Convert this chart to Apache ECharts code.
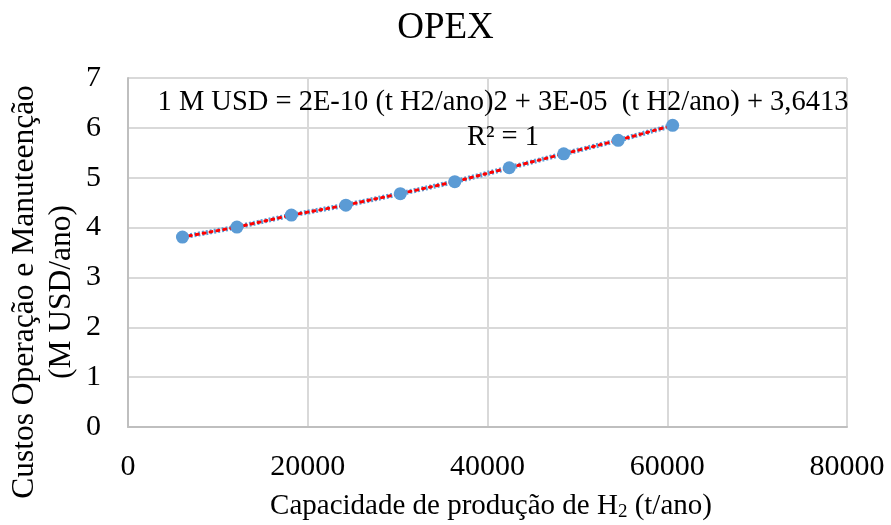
<!DOCTYPE html>
<html>
<head>
<meta charset="utf-8">
<script src="https://cdn.jsdelivr.net/npm/echarts@6/dist/echarts.min.js"></script>
<style>
  html, body { margin: 0; padding: 0; background: #fff; }
  #chart { width: 891px; height: 525px; }
</style>
</head>
<body>
<div id="chart"></div>
<script>
// Production capacity (t H2/ano) and yearly O&M cost (M USD/ano)
const capacidade = [6060, 12120, 18180, 24240, 30300, 36360, 42420, 48480, 54540, 60600];
const opex = [3.81, 4.01, 4.25, 4.45, 4.68, 4.92, 5.20, 5.48, 5.75, 6.05];

const tituloGrafico = 'OPEX';
const tituloX = 'Capacidade de produção de H{sub|2} (t/ano)';
const tituloY = ['Custos Operação e Manuteenção', '(M USD/ano)'];
const equacao = '1 M USD = 2E-10 (t H2/ano)2 + 3E-05  (t H2/ano) + 3,6413';
const r2 = 'R² = 1';

const FONT = "'Liberation Serif', 'Times New Roman', serif";
const GRID_COLOR = '#d9d9d9';

const pares = capacidade.map((x, i) => [x, opex[i]]);

const chart = echarts.init(document.getElementById('chart'), null, { renderer: 'canvas' });

chart.setOption({
  animation: false,
  backgroundColor: '#ffffff',
  title: {
    text: tituloGrafico,
    left: 'center',
    top: 5,
    textStyle: { fontFamily: FONT, fontSize: 37, fontWeight: 'normal', color: '#000' }
  },
  grid: { left: 128, right: 44, top: 78, bottom: 98 },
  xAxis: {
    type: 'value',
    min: 0, max: 80000, interval: 20000,
    axisLine: { show: true, lineStyle: { color: '#bfbfbf', width: 2 } },
    axisTick: { show: false },
    splitLine: { show: true, lineStyle: { color: GRID_COLOR, width: 2 } },
    axisLabel: {
      margin: 25, fontFamily: FONT, fontSize: 30, color: '#000',
      formatter: v => String(v)
    }
  },
  yAxis: {
    type: 'value',
    min: 0, max: 7, interval: 1,
    axisLine: { show: true, lineStyle: { color: '#bfbfbf', width: 2 } },
    axisTick: { show: false },
    splitLine: { show: true, lineStyle: { color: GRID_COLOR, width: 2 } },
    axisLabel: { margin: 27, fontFamily: FONT, fontSize: 30, color: '#000' }
  },
  series: [
    {
      // polynomial trend line (R² = 1, passes through the points)
      name: 'Tendência',
      type: 'line',
      data: pares,
      symbol: 'none',
      z: 2,
      lineStyle: { color: '#5b9bd5', width: 5, type: [2, 2] }
    },
    {
      name: 'OPEX',
      type: 'line',
      data: pares,
      symbol: 'circle',
      symbolSize: 13,
      z: 3,
      itemStyle: { color: '#5b9bd5' },
      lineStyle: { color: '#ff0000', width: 3, type: [2, 5], cap: 'round' }
    }
  ],
  graphic: [
    {
      type: 'text',
      x: 503, y: 103,
      style: {
        text: equacao,
        font: '28.5px ' + FONT,
        fill: '#000',
        textAlign: 'center',
        textVerticalAlign: 'middle'
      },
      z: 10
    },
    {
      type: 'text',
      x: 503, y: 138,
      style: {
        text: r2,
        font: '28.5px ' + FONT,
        fill: '#000',
        textAlign: 'center',
        textVerticalAlign: 'middle'
      },
      z: 10
    },
    {
      type: 'text',
      x: 43, y: 292,
      rotation: Math.PI / 2,
      style: {
        text: tituloY.join('\n'),
        font: '31.5px ' + FONT,
        lineHeight: 37,
        fill: '#000',
        textAlign: 'center',
        textVerticalAlign: 'middle'
      }
    },
    {
      type: 'text',
      x: 491, y: 506,
      style: {
        text: tituloX,
        font: '29px ' + FONT,
        fill: '#000',
        textAlign: 'center',
        textVerticalAlign: 'middle',
        rich: {
          sub: { fontSize: 19, fontFamily: FONT, padding: [12, 0, 0, 0] }
        }
      }
    }
  ]
});
</script>
</body>
</html>
